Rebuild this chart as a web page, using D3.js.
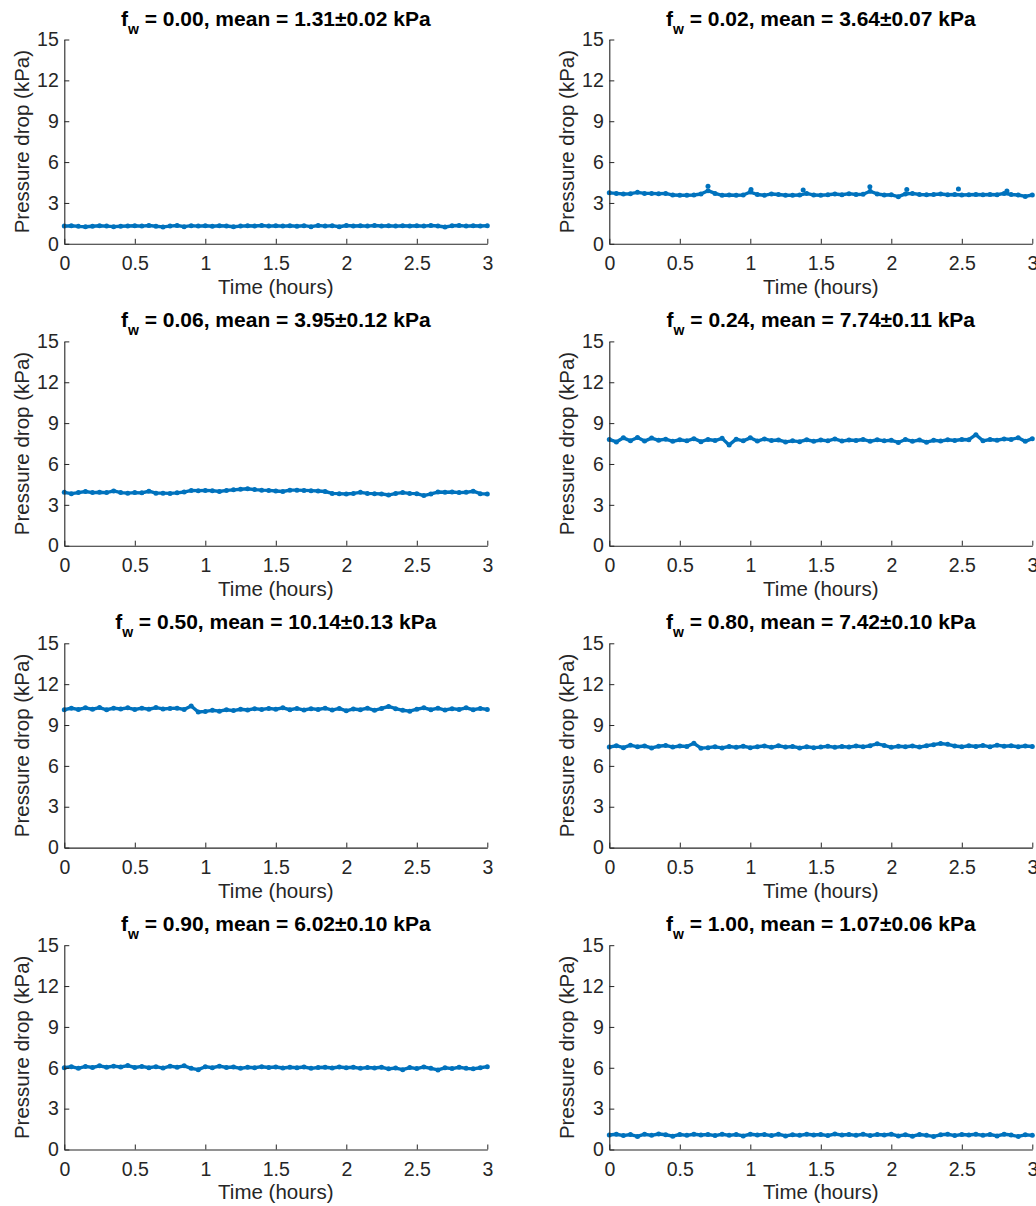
<html>
	<head>
		<meta content="text/html;charset=utf-8" http-equiv="Content-Type">
		<script src="https://d3js.org/d3.v7.min.js"></script>
		<style>
			body { margin: 0; background: #ffffff; }
			svg { display: block; font-family: "Liberation Sans", Arial, sans-serif; }
		</style>
	</head>
	<body>
		<svg id="chart"></svg>
		<script>

			// sample times (hours)
			var times = [0,0.05,0.1,0.15,0.2,0.25,0.3,0.35,0.4,0.45,0.5,0.55,0.6,0.65,0.7,0.75,0.8,0.85,0.9,0.95,
				1,1.05,1.1,1.15,1.2,1.25,1.3,1.35,1.4,1.45,1.5,1.55,1.6,1.65,1.7,1.75,1.8,1.85,1.9,1.95,
				2,2.05,2.1,2.15,2.2,2.25,2.3,2.35,2.4,2.45,2.5,2.55,2.6,2.65,2.7,2.75,2.8,2.85,2.9,2.95,3];

			var fwLabels = ["0.00","0.02","0.06","0.24","0.50","0.80","0.90","1.00"];
			var meanLabels = ["1.31\u00b10.02","3.64\u00b10.07","3.95\u00b10.12","7.74\u00b10.11",
				"10.14\u00b10.13","7.42\u00b10.10","6.02\u00b10.10","1.07\u00b10.06"];

			// pressure drop (kPa), one value per sample time
			var p00 = [1.30,1.33,1.28,1.25,1.29,1.33,1.30,1.26,1.29,1.31,
				1.33,1.30,1.34,1.29,1.24,1.30,1.34,1.26,1.33,1.30,
				1.32,1.29,1.33,1.31,1.25,1.30,1.33,1.31,1.34,1.30,
				1.33,1.30,1.32,1.29,1.33,1.26,1.34,1.30,1.33,1.25,
				1.34,1.31,1.33,1.30,1.34,1.31,1.33,1.30,1.32,1.31,
				1.33,1.30,1.34,1.31,1.23,1.32,1.34,1.30,1.33,1.31,1.32];
			var p02 = [3.74,3.70,3.66,3.68,3.78,3.70,3.70,3.68,3.70,3.58,
				3.56,3.57,3.58,3.66,3.90,3.70,3.56,3.58,3.57,3.58,
				3.80,3.62,3.56,3.66,3.62,3.56,3.57,3.58,3.70,3.58,
				3.56,3.60,3.66,3.60,3.68,3.62,3.64,3.86,3.66,3.58,
				3.60,3.46,3.66,3.70,3.62,3.60,3.62,3.66,3.60,3.62,
				3.58,3.60,3.62,3.60,3.62,3.60,3.70,3.62,3.58,3.48,3.58];
			var p06 = [3.92,3.82,3.90,3.98,3.90,3.92,3.90,4.02,3.90,3.86,
				3.90,3.88,4.00,3.86,3.86,3.84,3.88,3.94,4.06,4.04,
				4.06,4.04,3.98,4.06,4.10,4.14,4.18,4.12,4.08,4.06,
				4.02,3.98,4.08,4.08,4.06,4.04,4.02,3.98,3.84,3.82,
				3.80,3.84,3.92,3.84,3.82,3.80,3.72,3.84,3.90,3.84,
				3.82,3.68,3.80,3.94,3.92,3.94,3.90,3.92,4.00,3.82,3.80];
			var p24 = [7.80,7.62,7.92,7.70,7.95,7.68,7.90,7.74,7.82,7.66,
				7.78,7.70,7.86,7.64,7.80,7.72,7.88,7.40,7.82,7.70,
				7.92,7.68,7.84,7.72,7.76,7.62,7.70,7.64,7.78,7.66,
				7.76,7.70,7.84,7.68,7.76,7.72,7.80,7.66,7.78,7.70,
				7.74,7.58,7.80,7.66,7.76,7.60,7.74,7.68,7.78,7.72,
				7.80,7.78,8.15,7.70,7.80,7.74,7.84,7.80,7.92,7.66,7.86];
			var p50 = [10.12,10.24,10.14,10.26,10.16,10.28,10.12,10.24,10.18,10.26,
				10.14,10.24,10.16,10.28,10.18,10.22,10.24,10.14,10.40,9.96,
				10.00,10.08,10.02,10.12,10.06,10.16,10.10,10.20,10.14,10.22,
				10.16,10.26,10.12,10.22,10.10,10.20,10.14,10.24,10.10,10.22,
				10.04,10.18,10.12,10.24,10.08,10.22,10.36,10.20,10.08,10.02,
				10.16,10.26,10.12,10.24,10.10,10.20,10.14,10.26,10.12,10.22,10.14];
			var p80 = [7.38,7.48,7.34,7.52,7.40,7.46,7.32,7.44,7.50,7.38,
				7.46,7.42,7.66,7.30,7.34,7.40,7.32,7.42,7.36,7.44,
				7.34,7.40,7.46,7.36,7.48,7.38,7.42,7.32,7.40,7.34,
				7.38,7.44,7.36,7.42,7.38,7.46,7.40,7.48,7.62,7.50,
				7.36,7.44,7.40,7.46,7.38,7.48,7.56,7.64,7.58,7.46,
				7.40,7.48,7.42,7.50,7.40,7.52,7.44,7.48,7.40,7.46,7.42];
			var p90 = [6.00,6.08,5.96,6.10,6.02,6.14,6.04,6.12,6.06,6.16,
				6.02,6.10,6.00,6.08,5.98,6.12,6.04,6.14,5.96,5.86,
				6.08,6.00,6.12,6.02,6.06,5.96,6.04,6.00,6.08,6.02,
				6.06,5.98,6.04,6.00,6.06,5.96,6.02,6.04,5.98,6.06,
				6.00,6.04,5.96,6.02,5.98,6.04,5.92,5.98,5.86,6.02,
				5.94,6.06,5.96,5.84,6.00,5.94,6.04,5.96,5.92,6.00,6.08];
			var p100 = [1.06,1.12,1.02,1.10,0.96,1.12,1.04,1.14,1.08,0.98,
				1.10,1.04,1.12,1.06,1.10,1.02,1.12,1.04,1.10,1.00,
				1.12,1.06,1.10,1.02,1.12,1.00,1.08,1.04,1.12,1.06,
				1.10,1.02,1.14,1.06,1.10,1.04,1.12,1.02,1.10,1.06,
				1.12,1.00,1.08,0.98,1.10,1.04,0.96,1.08,1.12,1.02,
				1.10,1.06,1.12,1.04,1.10,1.00,1.12,1.06,0.96,1.08,1.04];

			// isolated spike points in the f_w = 0.02 run, [time, kPa]
			var spikes02 = [[0.70,4.22],[1.005,3.98],[1.375,3.95],[1.848,4.18],[2.11,3.98],[2.476,4.02],[2.82,3.88]];

			var series = [p00, p02, p06, p24, p50, p80, p90, p100];
			var spikes = [[], spikes02, [], [], [], [], [], []];

			var xTicks = [0, 0.5, 1, 1.5, 2, 2.5, 3];
			var yTicks = [0, 3, 6, 9, 12, 15];

			var W = 1036, H = 1206;
			var colLeft = [64.3, 609.3];
			var plotW = 423;
			var rowTop0 = 39.5, rowStep = 301.9, plotH = 204.3;
			var blue = "#0072BD", ink = "#262626";

			var svg = d3.select("#chart").attr("width", W).attr("height", H);

			for (var i = 0; i < series.length; i++) {
				drawPanel(i);
			}

			function drawPanel(i) {
				var left = colLeft[i % 2];
				var top = rowTop0 + Math.floor(i / 2) * rowStep;

				var x = d3.scaleLinear().domain([0, 3]).range([0, plotW]);
				var y = d3.scaleLinear().domain([0, 15]).range([plotH, 0]);

				var g = svg.append("g").attr("transform", "translate(" + left + "," + top + ")");

				// data trace
				var pts = times.map(function (t, k) { return [t, series[i][k]]; })
					.filter(function (d) { return d[1] !== undefined; });
				var line = d3.line().x(function (d) { return x(d[0]); }).y(function (d) { return y(d[1]); });
				g.append("path")
					.datum(pts)
					.attr("d", line)
					.attr("fill", "none")
					.attr("stroke", blue)
					.attr("stroke-width", 3.4)
					.attr("stroke-linejoin", "round");
				g.selectAll("circle.pt")
					.data(pts.concat(spikes[i]))
					.enter().append("circle")
					.attr("class", "pt")
					.attr("cx", function (d) { return x(d[0]); })
					.attr("cy", function (d) { return y(d[1]); })
					.attr("r", 2.5)
					.attr("fill", blue);

				// axes
				var xAxis = d3.axisBottom(x).tickValues(xTicks).tickFormat(function (d) { return String(d); })
					.tickSizeInner(-5).tickSizeOuter(0).tickPadding(12.5);
				var yAxis = d3.axisLeft(y).tickValues(yTicks).tickFormat(function (d) { return String(d); })
					.tickSizeInner(-5).tickSizeOuter(0).tickPadding(5.5);

				var gx = g.append("g").attr("transform", "translate(0," + plotH + ")").call(xAxis);
				var gy = g.append("g").call(yAxis);
				[gx, gy].forEach(function (a) {
					a.select(".domain").attr("stroke", ink).attr("stroke-width", 1.1);
					a.selectAll(".tick line").attr("stroke", ink).attr("stroke-width", 1);
					a.selectAll(".tick text").attr("fill", ink)
						.style("font-size", "19.5px")
						.style("font-family", "'Liberation Sans', Arial, sans-serif");
				});

				// axis labels
				g.append("text")
					.attr("x", plotW / 2)
					.attr("y", plotH + 50)
					.attr("text-anchor", "middle")
					.attr("fill", ink)
					.style("font-size", "20.5px")
					.text("Time (hours)");
				g.append("text")
					.attr("transform", "translate(-35.8," + (plotH / 2) + ") rotate(-90)")
					.attr("text-anchor", "middle")
					.attr("fill", ink)
					.style("font-size", "20.5px")
					.text("Pressure drop (kPa)");

				// title with subscript w
				var title = g.append("text")
					.attr("x", plotW / 2)
					.attr("y", -14)
					.attr("text-anchor", "middle")
					.attr("fill", "#000000")
					.style("font-size", "21px")
					.style("font-weight", "bold");
				title.append("tspan").text("f");
				title.append("tspan").attr("dy", 8).style("font-size", "14px").text("w");
				title.append("tspan").attr("dy", -8)
					.text(" = " + fwLabels[i] + ", mean = " + meanLabels[i] + " kPa");
			}

		</script>
	</body>
</html>
